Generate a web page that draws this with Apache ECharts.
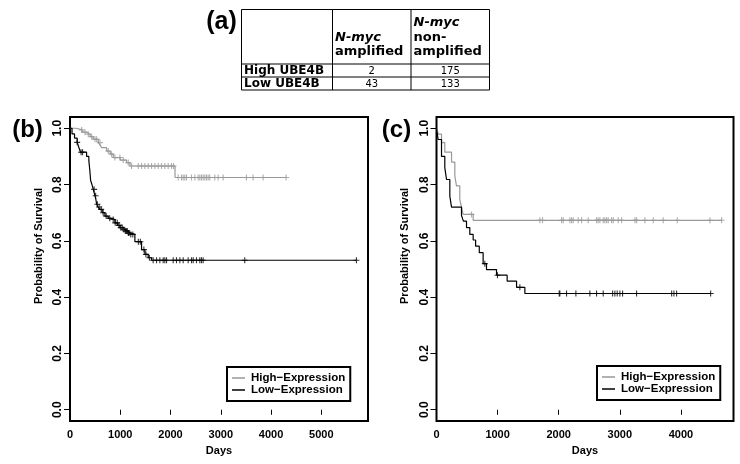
<!DOCTYPE html>
<html>

<head>
    <meta charset="utf-8">
    <title>UBE4B survival</title>
    <script src="https://cdn.jsdelivr.net/npm/echarts@6/dist/echarts.min.js"></script>
    <style>
        html,
        body {
            margin: 0;
            padding: 0;
            background: #fff;
        }

        #main {
            width: 740px;
            height: 464px;
        }
    </style>
</head>

<body>
    <div id="main"></div>
    <script>
        // (a) 表格
        const colHeaders = [['N-myc', 'amplified'], ['N-myc', 'non-', 'amplified']];
        const rowLabels = ['High UBE4B', 'Low UBE4B'];
        const tableValues = [[2, 175], [43, 133]];

        // (b) 生存曲线: 时间(天) / 生存率, 删失时间
        const timesHighB = [0, 120, 250, 331, 400, 463, 563, 600, 629, 729, 800, 861, 1000, 1126, 1192, 2090, 4300];
        const survHighB = [1, 0.994, 0.986, 0.979, 0.97, 0.961, 0.949, 0.94, 0.931, 0.919, 0.908, 0.896, 0.887, 0.878, 0.866, 0.825, 0.825];
        const censorHighB = [232, 298, 364, 431, 497, 530, 596, 762, 828, 894, 993, 1060, 1159, 1225, 1358, 1424, 1490, 1556,
            1623, 1689, 1755, 1821, 1888, 1954, 2020, 2060, 2152, 2219, 2252, 2285, 2318, 2418, 2484, 2550, 2583, 2616, 2649,
            2682, 2716, 2749, 2782, 2881, 2948, 3047, 3511, 3643, 3842, 4300];

        const timesLowB = [0, 40, 90, 143, 180, 209, 330, 375, 395, 410, 437, 463, 497, 515, 530, 560, 596, 640, 695, 760, 829,
            894, 950, 993, 1050, 1093, 1150, 1192, 1291, 1424, 1490, 1556, 1623, 5700];
        const survLowB = [1, 0.98, 0.965, 0.95, 0.93, 0.915, 0.9, 0.885, 0.85, 0.815, 0.8, 0.783, 0.76, 0.747, 0.73, 0.72, 0.712,
            0.7, 0.688, 0.68, 0.676, 0.664, 0.655, 0.647, 0.64, 0.635, 0.628, 0.623, 0.597, 0.569, 0.552, 0.54, 0.531, 0.531];
        const censorLowB = [143, 220, 250, 480, 510, 545, 580, 620, 660, 720, 790, 860, 900, 940, 975, 1010, 1040, 1070, 1100,
            1120, 1140, 1160, 1175, 1210, 1250, 1360, 1400, 1470, 1510, 1580, 1655, 1722, 1788, 1854, 1887, 1921, 2053, 2119,
            2186, 2252, 2351, 2418, 2451, 2517, 2583, 2616, 2649, 3477, 5700];

        // (c)
        const timesHighC = [0, 30, 82, 136, 246, 300, 327, 381, 409, 436, 600, 4670];
        const survHighC = [1, 0.979, 0.949, 0.915, 0.88, 0.83, 0.795, 0.747, 0.72, 0.694, 0.673, 0.673];
        const censorHighC = [573, 1691, 1735, 2047, 2074, 2182, 2210, 2237, 2319, 2374, 2483, 2619, 2646, 2674, 2728, 2755,
            2783, 2810, 2865, 2892, 2974, 3029, 3247, 3275, 3410, 3547, 3710, 3940, 4475, 4666];

        const timesLowC = [0, 27, 82, 136, 164, 218, 246, 409, 440, 491, 545, 600, 640, 700, 763, 818, 982, 1156, 1310, 1446, 4490];
        const survLowC = [1, 0.96, 0.9, 0.86, 0.818, 0.759, 0.72, 0.69, 0.67, 0.647, 0.623, 0.603, 0.581, 0.558, 0.519, 0.498,
            0.478, 0.457, 0.435, 0.413, 0.413];
        const censorLowC = [791, 998, 1364, 2008, 2019, 2128, 2281, 2510, 2619, 2728, 2882, 2919, 2957, 3001, 3045, 3274,
            3848, 3885, 3929, 4486];

        const xTicksB = [0, 1000, 2000, 3000, 4000, 5000];
        const xTicksC = [0, 1000, 2000, 3000, 4000];
        const yTicks = [0, 0.2, 0.4, 0.6, 0.8, 1.0];

        const GRAY = '#999999';
        const BLACK = '#000000';
        const FONT = '"Liberation Sans", Arial, sans-serif';
        const TFONT = '"DejaVu Sans", Verdana, sans-serif';

        function pairs(times, surv) {
            return times.map((t, i) => [t, surv[i]]);
        }

        // 删失点放在曲线上
        function censorPoints(times, surv, cens) {
            return cens.map(c => {
                let s = surv[0];
                for (let i = 0; i < times.length; i++) {
                    if (times[i] <= c) s = surv[i];
                }
                return [c, s];
            });
        }

        const plusSymbol = 'path://M5,0 L5,10 M0,5 L10,5';

        function curve(name, color, times, surv, axis) {
            return {
                name: name,
                type: 'line',
                step: 'end',
                xAxisIndex: axis,
                yAxisIndex: axis,
                color: color,
                symbol: 'none',
                lineStyle: { color: color, width: 1.2 },
                data: pairs(times, surv),
                silent: true
            };
        }

        function marks(name, color, times, surv, cens, axis) {
            return {
                name: name,
                type: 'scatter',
                xAxisIndex: axis,
                yAxisIndex: axis,
                symbol: plusSymbol,
                symbolSize: [6, 6],
                itemStyle: { color: 'none', borderColor: color, borderWidth: 1.1 },
                data: censorPoints(times, surv, cens),
                silent: true
            };
        }

        function xAxis(grid, max, ticks) {
            return {
                type: 'value',
                gridIndex: grid,
                min: 0,
                max: max,
                name: 'Days',
                nameLocation: 'middle',
                nameGap: 24,
                nameTextStyle: { fontFamily: FONT, fontWeight: 'bold', fontSize: 11, color: '#000' },
                axisLine: { show: false },
                axisTick: { show: true, length: 5, customValues: ticks, lineStyle: { color: '#000', width: 1 } },
                axisLabel: {
                    customValues: ticks, margin: 8, fontFamily: FONT, fontWeight: 'bold', fontSize: 11, color: '#000',
                    formatter: v => String(v)
                },
                splitLine: { show: false }
            };
        }

        function yAxis(grid) {
            return {
                type: 'value',
                gridIndex: grid,
                min: -0.04,
                max: 1.04,
                name: 'Probability of Survival',
                nameLocation: 'middle',
                nameGap: 26,
                nameTextStyle: {
                    fontFamily: FONT, fontWeight: 'bold', fontSize: 11, color: '#000', padding: [0, 0, 0, 46]
                },
                axisLine: { show: false },
                axisTick: { show: true, length: 6, customValues: yTicks, lineStyle: { color: '#000', width: 1 } },
                axisLabel: {
                    customValues: yTicks, rotate: 90, margin: 6, fontFamily: FONT, fontWeight: 'bold', fontSize: 12,
                    color: '#000', formatter: v => v.toFixed(1)
                },
                splitLine: { show: false }
            };
        }

        function legend(left, top) {
            return {
                data: ['High−Expression', 'Low−Expression'],
                orient: 'vertical',
                left: left,
                top: top,
                icon: 'rect',
                itemWidth: 13,
                itemHeight: 1.5,
                itemGap: 0,
                padding: [5, 5, 5, 5],
                borderColor: '#000',
                borderWidth: 2,
                selectedMode: false,
                textStyle: { fontFamily: FONT, fontWeight: 'bold', fontSize: 11.5, color: '#000', lineHeight: 9, padding: [0, 0, 0, 1] }
            };
        }

        // 表格 graphic
        const colX = [241.5, 332.5, 411, 489.5];
        const rowY = [9.5, 64, 77, 90];
        const graphics = [];
        colX.forEach(x => graphics.push({
            type: 'line', shape: { x1: x, y1: rowY[0], x2: x, y2: rowY[3] }, style: { stroke: '#000', lineWidth: 1 }
        }));
        rowY.forEach(y => graphics.push({
            type: 'line', shape: { x1: colX[0], y1: y, x2: colX[3], y2: y }, style: { stroke: '#000', lineWidth: 1 }
        }));
        colHeaders.forEach((lines, ci) => {
            const n = lines.length;
            lines.forEach((txt, li) => {
                graphics.push({
                    type: 'text',
                    x: colX[ci + 1] + 2.5,
                    y: 52 - (n - 1 - li) * 14.5,
                    style: {
                        text: txt, fontFamily: TFONT, fontWeight: 'bold', fontSize: 13,
                        fontStyle: txt === 'N-myc' ? 'italic' : 'normal',
                        fill: '#000', verticalAlign: 'middle', align: 'left'
                    }
                });
            });
        });
        rowLabels.forEach((lab, ri) => {
            const cy = (rowY[ri + 1] + rowY[ri + 2]) / 2 + 0.5;
            graphics.push({
                type: 'text', x: colX[0] + 2.5, y: cy,
                style: { text: lab, fontFamily: TFONT, fontWeight: 'bold', fontSize: 12, fill: '#000', verticalAlign: 'middle', align: 'left' }
            });
            tableValues[ri].forEach((v, ci) => {
                graphics.push({
                    type: 'text', x: (colX[ci + 1] + colX[ci + 2]) / 2, y: cy,
                    style: { text: String(v), fontFamily: TFONT, fontSize: 10, fill: '#000', verticalAlign: 'middle', align: 'center' }
                });
            });
        });
        // 子图标签
        [['(a)', 221.5, 22, 25], ['(b)', 27.5, 130, 24], ['(c)', 396.5, 130, 24]].forEach(p => {
            graphics.push({
                type: 'text', x: p[1], y: p[2],
                style: { text: p[0], fontFamily: FONT, fontWeight: 'bold', fontSize: p[3], fill: '#000', align: 'center', verticalAlign: 'middle' }
            });
        });

        const chart = echarts.init(document.getElementById('main'));
        chart.setOption({
            animation: false,
            backgroundColor: '#fff',
            grid: [
                { left: 70, top: 117, width: 298, height: 304, show: true, borderColor: '#000', borderWidth: 2, backgroundColor: 'transparent' },
                { left: 436.5, top: 117, width: 297, height: 304, show: true, borderColor: '#000', borderWidth: 2, backgroundColor: 'transparent' }
            ],
            xAxis: [xAxis(0, 5930, xTicksB), xAxis(1, 4860, xTicksC)],
            yAxis: [yAxis(0), yAxis(1)],
            legend: [legend(227, 367), legend(597, 366)],
            graphic: graphics,
            series: [
                curve('High−Expression', GRAY, timesHighB, survHighB, 0),
                curve('Low−Expression', BLACK, timesLowB, survLowB, 0),
                marks('censor high b', GRAY, timesHighB, survHighB, censorHighB, 0),
                marks('censor low b', BLACK, timesLowB, survLowB, censorLowB, 0),
                curve('High−Expression', GRAY, timesHighC, survHighC, 1),
                curve('Low−Expression', BLACK, timesLowC, survLowC, 1),
                marks('censor high c', GRAY, timesHighC, survHighC, censorHighC, 1),
                marks('censor low c', BLACK, timesLowC, survLowC, censorLowC, 1)
            ]
        });
    </script>
</body>

</html>
